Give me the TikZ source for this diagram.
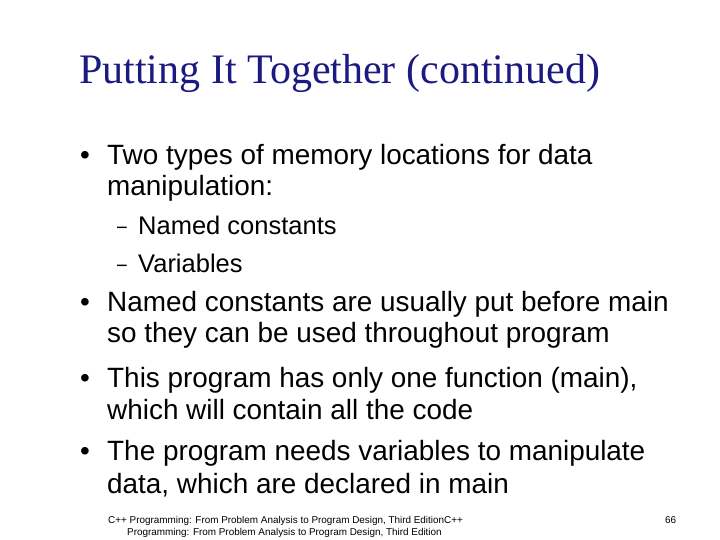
\documentclass[tikz,border=0pt]{standalone}
\usepackage{fontspec}
\setmainfont{Liberation Sans}
\newfontfamily\titlefont{Liberation Serif}
\definecolor{titleblue}{RGB}{26,26,128}
\begin{document}
\begin{tikzpicture}[x=1pt,y=-1pt,
  txt/.style={anchor=base west,inner sep=0pt,font=\fontsize{27.9}{32}\selectfont},
  bul/.style={anchor=base west,inner sep=0pt,font=\fontsize{27.9}{32}\selectfont},
  sub/.style={anchor=base west,inner sep=0pt,font=\fontsize{25.5}{30}\selectfont},
  dsh/.style={anchor=base west,inner sep=0pt,font=\fontsize{20}{24}\selectfont},
  foot/.style={anchor=base west,inner sep=0pt,font=\fontsize{9.9}{12}\selectfont}]
\useasboundingbox[fill=white] (0,0) rectangle (720,540);
\node[anchor=base west,inner sep=0pt,text=titleblue,font=\titlefont\fontsize{42}{46}\selectfont] (title) at (79,84) {Putting It Together (continued)};
\node[bul] (b1) at (80,165) {•};
\node[txt] (t1a) at (107,165) {Two types of memory locations for data};
\node[txt] (t1b) at (107,196) {manipulation:};
\node[dsh] (d1) at (116,234) {−};
\node[sub] (s1) at (138,234) {Named constants};
\node[dsh] (d2) at (116,272) {−};
\node[sub] (s2) at (138,272) {Variables};
\node[bul] (b2) at (80,311) {•};
\node[txt] (t2a) at (107,311) {Named constants are usually put before main};
\node[txt] (t2b) at (107,342) {so they can be used throughout program};
\node[bul] (b3) at (80,387) {•};
\node[txt] (t3a) at (107,387) {This program has only one function (main),};
\node[txt] (t3b) at (107,419) {which will contain all the code};
\node[bul] (b4) at (80,460) {•};
\node[txt] (t4a) at (107,460) {The program needs variables to manipulate};
\node[txt] (t4b) at (107,493) {data, which are declared in main};
\node[foot] (f1) at (108,523) {C++ Programming: From Problem Analysis to Program Design, Third EditionC++};
\node[foot] (f2) at (127,535) {Programming: From Problem Analysis to Program Design, Third Edition};
\node[foot] (pg) at (665,523) {66};
\end{tikzpicture}
\end{document}
